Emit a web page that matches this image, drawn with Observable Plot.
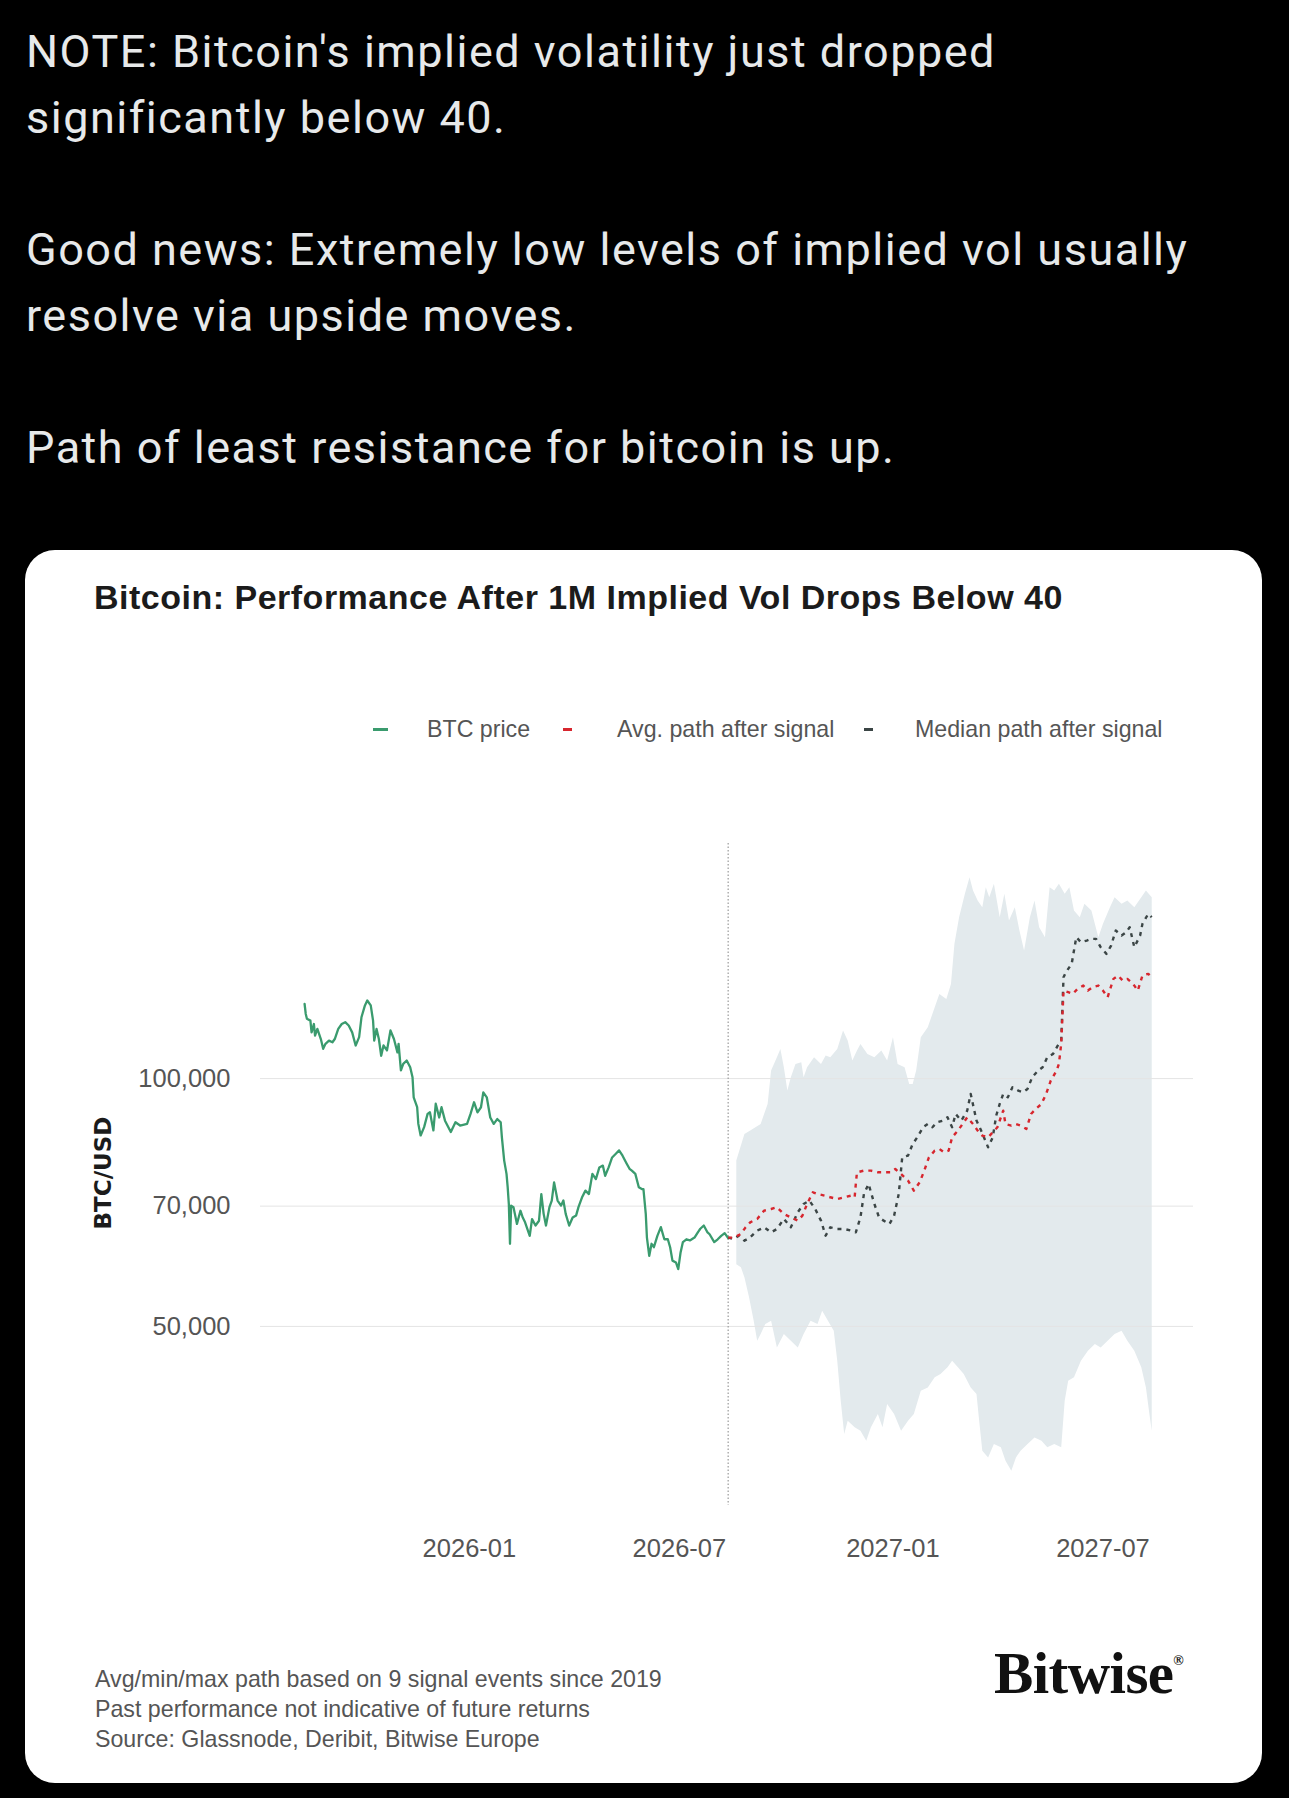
<!DOCTYPE html>
<html>
<head>
<meta charset="utf-8">
<script src="https://cdn.jsdelivr.net/npm/d3@7"></script>
<script src="https://cdn.jsdelivr.net/npm/@observablehq/plot@0.6"></script>
<style>
  html, body { margin: 0; padding: 0; background: #000; }
  #page { position: relative; width: 1289px; height: 1798px; background: #000; overflow: hidden; font-family: "Liberation Sans", Arial, sans-serif; }
  #tweet { position: absolute; left: 26px; top: 19px; color: #e7e9ea; font-family: Roboto, "Noto Sans", sans-serif; font-size: 45px; line-height: 66px; letter-spacing: 1.5px; white-space: pre; }
  #card { position: absolute; left: 25px; top: 550px; width: 1237px; height: 1233px; background: #fff; border-radius: 30px; }
  #title { position: absolute; left: 94px; top: 577px; font-size: 34px; line-height: 40px; font-weight: bold; color: #1b1b1b; letter-spacing: 0.5px; white-space: nowrap; }
  .lg { position: absolute; top: 715px; font-size: 23.2px; line-height: 28px; color: #555; white-space: nowrap; }
  .sw { position: absolute; top: 728px; height: 2.5px; }
  #ylab { position: absolute; left: 103px; top: 1173px; transform: translate(-50%, -50%) rotate(-90deg); font-family: "DejaVu Sans", sans-serif; font-size: 23px; font-weight: bold; color: #1b1b1b; white-space: nowrap; }
  #chart { position: absolute; left: 0; top: 800px; }
  .cap { position: absolute; left: 95px; font-size: 23.2px; line-height: 28px; color: #555; white-space: nowrap; }
  #logo { position: absolute; left: 994px; top: 1626px; font-family: "Liberation Serif", "DejaVu Serif", serif; font-weight: bold; font-size: 59px; line-height: 70px; color: #111; letter-spacing: -0.6px; }
  #logo sup { font-size: 14px; vertical-align: 28px; letter-spacing: 0; }
</style>
</head>
<body>
<div id="page">
  <div id="tweet">NOTE: Bitcoin's implied volatility just dropped
significantly below 40.

Good news: Extremely low levels of implied vol usually
resolve via upside moves.

Path of least resistance for bitcoin is up.</div>
  <div id="card"></div>
  <div id="title">Bitcoin: Performance After 1M Implied Vol Drops Below 40</div>
  <div class="sw" style="left:373px;width:15px;background:#3a9b6e"></div>
  <div class="lg" style="left:427px">BTC price</div>
  <div class="sw" style="left:563px;width:9px;background:#d7262e"></div>
  <div class="lg" style="left:617px">Avg. path after signal</div>
  <div class="sw" style="left:864px;width:9px;background:#3b4545"></div>
  <div class="lg" style="left:915px">Median path after signal</div>
  <div id="ylab">BTC/USD</div>
  <div id="chart"></div>
  <div class="cap" style="top:1665px">Avg/min/max path based on 9 signal events since 2019</div>
  <div class="cap" style="top:1695px">Past performance not indicative of future returns</div>
  <div class="cap" style="top:1725px">Source: Glassnode, Deribit, Bitwise Europe</div>
  <div id="logo">Bitwise<sup>®</sup></div>
</div>
<script>
// ---- BTC price (days since 2025-08-12, USD) ----
const btcStart = "2025-08-12";
const btcDays = [0,1,2,5,6,8,9,11,14,16,18,21,24,26,29,32,35,38,41,44,47,49,52,54,57,59,60,62,64,66,68,71,74,77,80,81,83,85,88,91,93,94,97,98,100,103,106,108,111,113,116,118,121,126,130,134,140,143,146,149,152,154,157,160,163,166,169,170,172,174,175,176,177,178,180,183,186,188,190,194,196,199,202,204,206,208,211,213,215,218,221,223,225,228,231,234,236,239,242,245,248,251,254,257,259,262,265,268,271,274,277,280,282,285,288,291,292,294,295,297,299,301,304,307,310,313,315,317,320,322,324,326,329,332,336,339,341,344,347,349,353,356,359,362,365];
const btcPrice = [123200,119800,118200,117600,113800,116500,112800,114900,111700,108700,110200,111200,110700,111700,114900,116500,117100,116000,113800,109700,112300,118700,122700,124400,122700,117600,111200,114900,111700,106600,109700,108200,114400,111700,107600,110200,102300,104200,105200,103200,100400,94900,92300,88100,85300,87300,90600,91000,86500,93200,89700,92300,88900,86100,88500,87700,88100,90600,93600,91000,92300,96200,94900,89700,88100,89300,88500,84900,79500,76600,73800,70400,63000,70100,69800,66600,69100,67800,66900,64400,67500,66300,67200,72400,68500,66300,69800,71100,74800,71100,70100,71100,68500,66300,67800,68200,69800,71700,73100,72400,76600,75500,78000,78400,76200,78000,80200,81000,81800,80600,79100,77700,77300,76600,73800,73400,73400,68500,64100,60900,63000,62400,64400,66000,63800,63800,62400,60100,59800,58700,61500,63300,63800,63600,64100,65100,65700,66300,65100,64700,63300,63800,64400,64900,64000];

// ---- Paths after signal (days after 2026-08-12, USD) ----
const signalDate = "2026-08-12";
const avgDays = [0,5,11,15,19,25,31,37,42,48,54,60,64,68,73,77,83,88,94,100,106,109,110,111,117,123,129,134,140,144,149,155,160,165,169,173,178,182,186,190,193,198,202,206,211,215,219,224,228,232,237,239,244,248,252,257,261,265,270,274,278,283,285,287,288,289,293,297,301,306,310,314,319,323,327,332,336,340,344,349,353,357,362,365];
const avgPath = [64100,64100,64750,65970,66900,67530,69120,69440,69770,68480,67840,67210,68160,70420,72760,72420,72080,71750,71410,71750,72080,71750,74470,76940,77300,77300,76940,76940,76940,77660,76590,75170,73100,74820,77300,80240,81750,82140,81370,81750,84860,86460,88080,89740,88080,86460,85260,84860,86050,87270,91430,88080,87680,88080,87680,86860,90580,91860,93150,95800,99440,102260,104190,110190,118720,127910,127320,126720,128510,129710,127910,129110,129710,127910,125550,132160,133400,131540,132160,130320,127910,133400,134020,132770];

const medDays = [0,5,9,14,19,25,31,37,42,48,54,60,65,70,75,80,84,88,94,100,106,110,114,117,121,126,130,134,139,143,147,150,155,159,163,168,172,176,180,185,189,193,196,201,206,209,214,218,224,228,231,234,237,241,245,250,254,258,262,267,271,275,280,284,287,289,291,296,298,300,304,309,313,317,321,326,330,334,339,343,346,350,355,357,362,365];
const medPath = [64100,63850,64450,63550,64150,65360,65970,65050,65660,67530,65970,68800,70420,71080,69440,67210,64450,65970,65660,65660,65360,65050,67840,72420,74470,70420,67840,67210,66590,68160,72420,80240,80620,83290,84860,87270,88080,87270,88500,88910,89740,87270,90580,88910,91430,95800,88910,86460,82520,84860,90160,93150,95800,94910,97600,96690,96250,97150,100380,102260,103220,106150,107150,109670,111220,132770,134650,137820,143060,148500,146440,147120,147810,147810,144410,141730,145080,151300,149200,150590,152710,144410,149200,154150,158520,157050];

const maxDays = [7,14,19,28,34,37,42,45,48,51,54,58,63,65,68,74,80,84,88,94,99,103,107,111,114,120,126,132,137,142,146,152,156,159,162,166,172,178,182,188,192,195,199,204,208,211,215,219,222,225,229,234,238,242,247,251,255,260,264,268,273,277,281,285,290,294,298,303,307,313,319,323,329,333,339,344,350,356,360,365];
const maxPath = [79500,85650,86460,88080,93150,102260,106150,108650,103220,96690,100380,104190,104680,100380,103220,106150,104190,106650,106150,108650,114370,111220,105170,108150,110190,107150,106150,108150,105170,112260,104190,103220,98520,98520,102260,112260,115440,122080,126720,124960,130320,145760,157050,167640,175640,169210,164540,161500,170800,166090,172400,157050,167640,155590,161500,151300,143060,157050,164540,152710,148500,170800,169210,172400,167640,170800,160000,157050,163020,160000,148500,154150,161500,166090,163020,164540,161500,166090,169210,166090];

const minDays = [7,11,14,18,22,25,28,32,37,42,48,54,60,65,71,77,81,86,91,94,97,100,103,109,114,119,123,129,133,137,143,149,155,160,166,172,178,183,189,193,198,203,209,214,216,219,224,229,235,239,244,248,252,258,264,270,275,281,287,290,293,298,304,310,316,321,327,333,339,344,350,356,360,363,365];
const minPath = [59500,58990,57360,54240,50810,48040,48950,50340,50810,47150,48950,48040,47150,48950,50810,50340,52250,50810,49410,45430,40620,37000,38410,37700,37350,36320,37700,39130,37700,40240,39130,37350,38410,39130,41770,42160,43360,43760,44590,45430,44590,43760,42160,41380,38770,35320,34660,35980,35650,34340,33390,34660,35320,35980,36660,36320,35650,35980,35650,40620,42950,43360,45430,46720,47600,47150,48040,48950,49410,48040,46720,44590,42160,39130,37350];

// ---- Axes ----
const yTicks = [50000, 70000, 100000];
const xTicks = ["2026-01-01", "2026-07-01", "2027-01-01", "2027-07-01"];
const xDomain = ["2025-07-05", "2027-09-17"];
const yDomain = [30300, 193000];

// ---- Build tables ----
const d0 = new Date(btcStart + "T00:00:00Z");
const s0 = new Date(signalDate + "T00:00:00Z");
const btc = btcDays.map((d, i) => ({date: d3.utcDay.offset(d0, d), v: btcPrice[i]}));
const avg = avgDays.map((d, i) => ({date: d3.utcDay.offset(s0, d), v: avgPath[i]}));
const med = medDays.map((d, i) => ({date: d3.utcDay.offset(s0, d), v: medPath[i]}));
const upper = maxDays.map((d, i) => ({date: d3.utcDay.offset(s0, d), v: maxPath[i]}));
const lower = minDays.map((d, i) => ({date: d3.utcDay.offset(s0, d), v: minPath[i]}));
const band = upper.concat(lower.slice().reverse());

const chart = Plot.plot({
  width: 1289,
  height: 775,
  marginTop: 43,
  marginBottom: 70,
  marginLeft: 260,
  marginRight: 96,
  style: {fontSize: "25.5px", fontFamily: "Liberation Sans, Arial, sans-serif", color: "#555", background: "transparent", overflow: "visible"},
  x: {type: "utc", domain: xDomain.map(s => new Date(s + "T00:00:00Z"))},
  y: {type: "log", domain: yDomain},
  marks: [
    Plot.line(band, {x: "date", y: "v", fill: "#e3eaed", stroke: "none", curve: "linear"}),
    Plot.gridY(yTicks, {stroke: "#e4e4e4", strokeOpacity: 1, strokeWidth: 1}),
    Plot.ruleX([s0], {stroke: "#9a9a9a", strokeWidth: 1.2, strokeDasharray: "1.5,2"}),
    Plot.line(btc, {x: "date", y: "v", stroke: "#3a9b6e", strokeWidth: 2.3}),
    Plot.line(med, {x: "date", y: "v", stroke: "#3b4545", strokeWidth: 2.4, strokeDasharray: "4,5", strokeLinecap: "butt"}),
    Plot.line(avg, {x: "date", y: "v", stroke: "#d7262e", strokeWidth: 2.4, strokeDasharray: "4,5", strokeLinecap: "butt"}),
    Plot.axisY({ticks: yTicks, tickFormat: d3.format(","), tickSize: 0, tickPadding: 30, label: null}),
    Plot.axisX({ticks: xTicks.map(s => new Date(s + "T00:00:00Z")), tickFormat: d3.utcFormat("%Y-%m"), tickSize: 0, tickPadding: 33, label: null})
  ]
});
document.getElementById("chart").appendChild(chart);
</script>
</body>
</html>
